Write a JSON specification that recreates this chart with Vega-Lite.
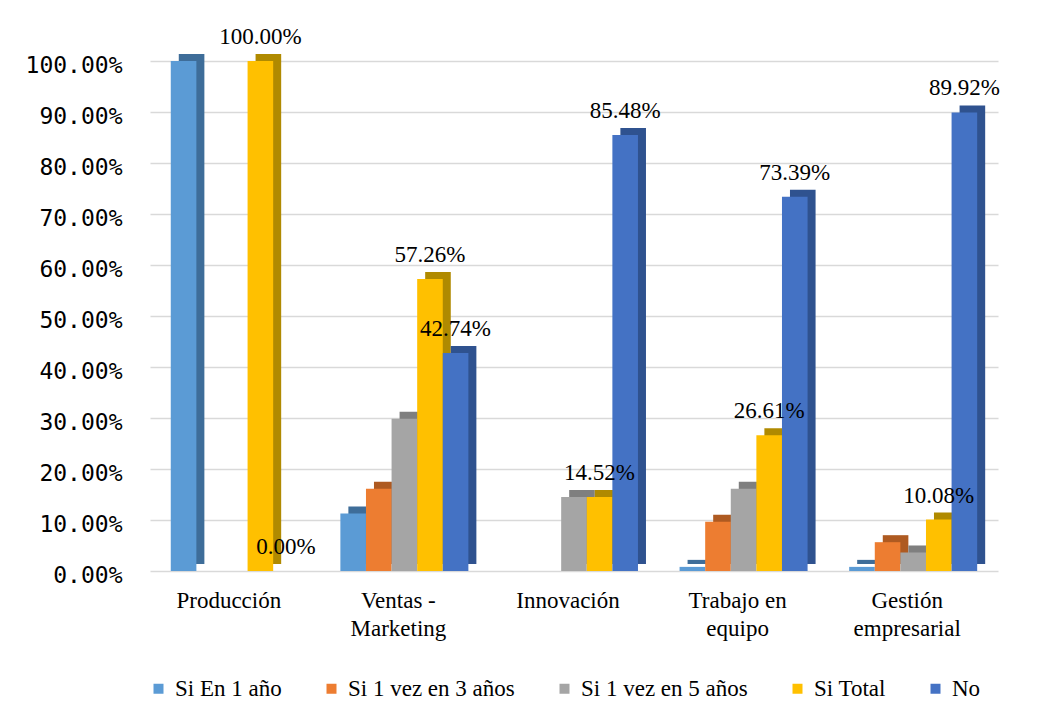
{
  "$schema": "https://vega.github.io/schema/vega-lite/v6.json",
  "width": 868,
  "height": 510,
  "autosize": {"type": "none"},
  "padding": {"left": 145, "top": 61, "right": 30, "bottom": 146},
  "config": {"view": {"stroke": null}},
  "data": {
    "values": [
      {"category": "Producción", "series": "Si En 1 año", "value": 1.0},
      {"category": "Producción", "series": "Si 1 vez en 3 años", "value": 0.0},
      {"category": "Producción", "series": "Si 1 vez en 5 años", "value": 0.0},
      {"category": "Producción", "series": "Si Total", "value": 1.0},
      {"category": "Producción", "series": "No", "value": 0.0},
      {"category": "Ventas - Marketing", "series": "Si En 1 año", "value": 0.1129},
      {"category": "Ventas - Marketing", "series": "Si 1 vez en 3 años", "value": 0.1613},
      {"category": "Ventas - Marketing", "series": "Si 1 vez en 5 años", "value": 0.2984},
      {"category": "Ventas - Marketing", "series": "Si Total", "value": 0.5726},
      {"category": "Ventas - Marketing", "series": "No", "value": 0.4274},
      {"category": "Innovación", "series": "Si En 1 año", "value": 0.0},
      {"category": "Innovación", "series": "Si 1 vez en 3 años", "value": 0.0},
      {"category": "Innovación", "series": "Si 1 vez en 5 años", "value": 0.1452},
      {"category": "Innovación", "series": "Si Total", "value": 0.1452},
      {"category": "Innovación", "series": "No", "value": 0.8548},
      {"category": "Trabajo en equipo", "series": "Si En 1 año", "value": 0.0081},
      {"category": "Trabajo en equipo", "series": "Si 1 vez en 3 años", "value": 0.0968},
      {"category": "Trabajo en equipo", "series": "Si 1 vez en 5 años", "value": 0.1613},
      {"category": "Trabajo en equipo", "series": "Si Total", "value": 0.2661},
      {"category": "Trabajo en equipo", "series": "No", "value": 0.7339},
      {"category": "Gestión empresarial", "series": "Si En 1 año", "value": 0.0081},
      {"category": "Gestión empresarial", "series": "Si 1 vez en 3 años", "value": 0.0565},
      {"category": "Gestión empresarial", "series": "Si 1 vez en 5 años", "value": 0.0363},
      {"category": "Gestión empresarial", "series": "Si Total", "value": 0.1008},
      {"category": "Gestión empresarial", "series": "No", "value": 0.8992}
    ]
  },
  "encoding": {
    "x": {
      "field": "category",
      "type": "nominal",
      "sort": ["Producción", "Ventas - Marketing", "Innovación", "Trabajo en equipo", "Gestión empresarial"],
      "scale": {"range": [5, 853], "paddingInner": 0.245, "paddingOuter": 0.1225},
      "axis": {
        "title": null,
        "domain": false,
        "ticks": false,
        "grid": false,
        "labelAngle": 0,
        "labelFont": "Liberation Serif",
        "labelFontSize": 23,
        "labelPadding": 18,
        "labelLineHeight": 28,
        "labelOffset": -6,
        "labelExpr": "datum.label == 'Ventas - Marketing' ? ['Ventas -', 'Marketing'] : datum.label == 'Trabajo en equipo' ? ['Trabajo en', 'equipo'] : datum.label == 'Gestión empresarial' ? ['Gestión', 'empresarial'] : datum.label"
      }
    },
    "y": {
      "field": "value",
      "type": "quantitative",
      "scale": {"domain": [0, 1]},
      "axis": {
        "title": null,
        "format": ".2%",
        "values": [0, 0.1, 0.2, 0.3, 0.4, 0.5, 0.6, 0.7, 0.8, 0.9, 1.0],
        "domain": false,
        "ticks": false,
        "grid": true,
        "gridColor": "#D9D9D9",
        "gridWidth": 1.5,
        "labelFont": "DejaVu Sans Mono",
        "labelFontSize": 23,
        "labelPadding": 23,
        "labelOffset": 4
      }
    }
  },
  "layer": [
    {
      "mark": {"type": "bar", "yOffset": -7, "y2Offset": -7},
      "encoding": {
        "xOffset": {
          "field": "series",
          "type": "nominal",
          "scale": {"domain": ["Si En 1 año", "Si 1 vez en 3 años", "Si 1 vez en 5 años", "Si Total", "No"], "range": [8, 136], "paddingInner": 0, "paddingOuter": 0}
        },
        "color": {
          "field": "series",
          "type": "nominal",
          "scale": {"domain": ["Si En 1 año", "Si 1 vez en 3 años", "Si 1 vez en 5 años", "Si Total", "No"], "range": ["#3E6D99", "#AE5A21", "#7F7F7F", "#B08A00", "#2F528F"]},
          "legend": null
        }
      }
    },
    {
      "mark": {"type": "bar"},
      "encoding": {
        "xOffset": {
          "field": "series",
          "type": "nominal",
          "scale": {"domain": ["Si En 1 año", "Si 1 vez en 3 años", "Si 1 vez en 5 años", "Si Total", "No"], "range": [0, 128], "paddingInner": 0, "paddingOuter": 0}
        },
        "color": {
          "field": "series",
          "type": "nominal",
          "scale": {"domain": ["Si En 1 año", "Si 1 vez en 3 años", "Si 1 vez en 5 años", "Si Total", "No"], "range": ["#5B9BD5", "#ED7D31", "#A5A5A5", "#FFC000", "#4472C4"]},
          "legend": {
            "title": null,
            "orient": "none",
            "legendX": 2,
            "legendY": 616,
            "direction": "horizontal",
            "columns": 5,
            "symbolType": "square",
            "symbolSize": 100,
            "symbolStrokeWidth": 0,
            "labelFont": "Liberation Serif",
            "labelFontSize": 23,
            "labelOffset": 5,
            "labelLimit": 400,
            "columnPadding": 38,
            "padding": 0
          }
        }
      }
    },
    {
      "transform": [{"filter": "datum.series == 'Si Total' || datum.series == 'No'"}],
      "mark": {"type": "text", "baseline": "bottom", "dy": -12, "font": "serif", "fontSize": 23},
      "encoding": {
        "xOffset": {
          "field": "series",
          "type": "nominal",
          "scale": {"type": "point", "domain": ["Si En 1 año", "Si 1 vez en 3 años", "Si 1 vez en 5 años", "Si Total", "No"], "range": [12.8, 115.2], "padding": 0}
        },
        "text": {"field": "value", "type": "quantitative", "format": ".2%"}
      }
    }
  ],
  "resolve": {"scale": {"color": "independent", "xOffset": "independent"}}
}
